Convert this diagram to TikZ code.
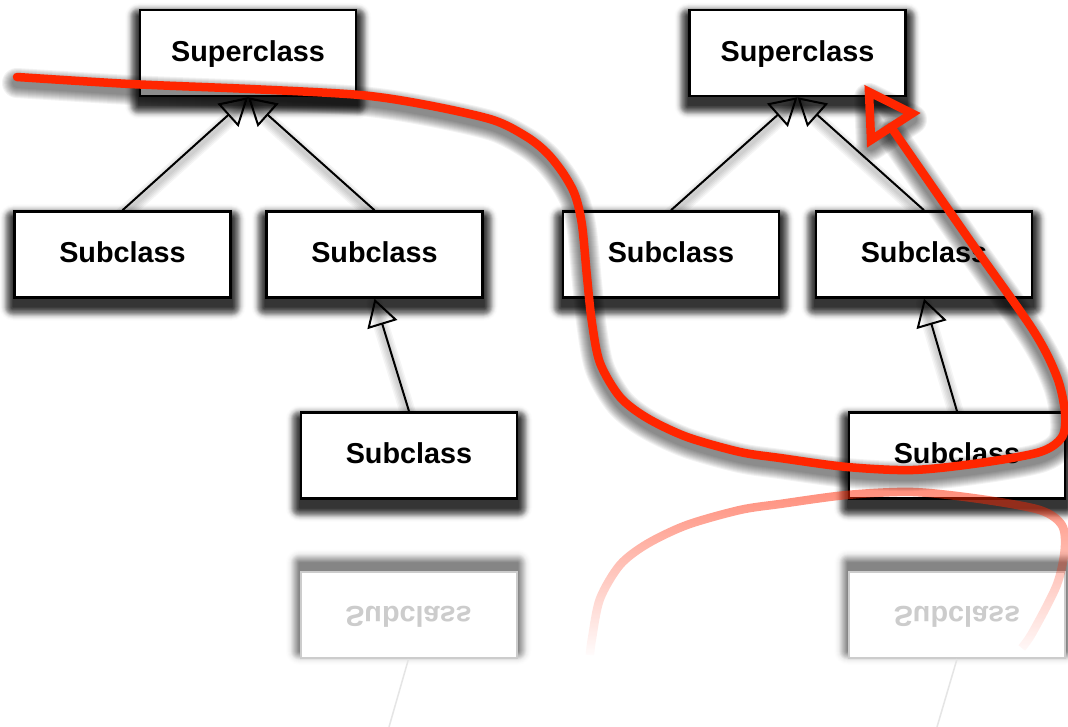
\documentclass[tikz,border=0pt]{standalone}
\usepackage{fontspec}
\setmainfont{Liberation Sans}
\usepackage{graphicx}
\usetikzlibrary{arrows.meta,calc,fadings}
\pgfdeclarelayer{back}
\pgfsetlayers{back,main}
\definecolor{redpen}{RGB}{255,38,0}
\tikzset{
  classbox/.style={draw=black, fill=white, line width=2.5pt,
    minimum width=216pt, minimum height=86pt, inner sep=0pt,
    text height=20.6pt, text depth=4pt,
    font=\bfseries\fontsize{28.8pt}{32pt}\selectfont},
  mirrorbox/.style={draw=black!20, fill=white, line width=2pt,
    minimum width=216pt, minimum height=86pt, inner sep=0pt,
    text=black!20, text height=4pt, text depth=20.6pt,
    font=\bfseries\fontsize{28.8pt}{32pt}\selectfont},
  genline/.style={draw=black, line width=2pt,
    -{Triangle[open, length=27pt, width=31pt]}},
  mirrorline/.style={draw=black!10, line width=1.5pt},
  redstroke/.style={draw=redpen, line width=8.5pt, line cap=round, line join=round},
}
\tikzfading[name=reflfade, top color=transparent!48, middle color=transparent!82,
  bottom color=transparent!100]
% blur profile of the drop shadows: growth / opacity of each layer
\def\blurlayers{0.5/0.075,1/0.075,1.5/0.075,2/0.075,2.5/0.075,3/0.075,
  3.5/0.065,4/0.065,4.5/0.065,5/0.065,5.5/0.065,6/0.065,
  6.5/0.057,7/0.057,7.5/0.057,8/0.057,8.5/0.057,9/0.057,
  9.5/0.022,10/0.022,10.5/0.022,11/0.022,11.5/0.022,12/0.022,
  12.5/0.008,13/0.008,13.5/0.008,14/0.008}
\begin{document}
\begin{tikzpicture}[x=1pt, y=-1pt]
\begin{pgfonlayer}{back}
  \fill[white] (0,0) rectangle (1068,727);
\end{pgfonlayer}
\useasboundingbox (0,0) rectangle (1068,727);

% class boxes
\node[classbox] (supL) at (248,53)    {Superclass};
\node[classbox] (supR) at (797.5,53)  {Superclass};
\node[classbox] (subA) at (122.5,254.5) {Subclass};
\node[classbox] (subB) at (374.5,254.5) {Subclass};
\node[classbox] (subC) at (409,455.5)   {Subclass};
\node[classbox] (subD) at (671,254.5)   {Subclass};
\node[classbox] (subE) at (924,254.5)   {Subclass};
\node[classbox] (subF) at (957,455.5)   {Subclass};

% mirrored copies of the lowest boxes
\node[mirrorbox] (refC) at (408.5,615) {\scalebox{1}[-1]{Subclass}};
\node[mirrorbox] (refF) at (957,615)   {\scalebox{1}[-1]{Subclass}};
\coordinate (refCend) at (389,727);
\coordinate (refFend) at (937,727);

% soft drop shadows
\begin{pgfonlayer}{back}
  \foreach \nm in {supL,supR,subA,subB,subC,subD,subE,subF}{
    \foreach \rr/\op in \blurlayers{
      \fill[black, opacity=\op, rounded corners=\rr pt]
        ($(\nm.north west)+(-\rr,{8-\rr})$) rectangle ($(\nm.south east)+(\rr,{8+\rr})$);
    }
  }
  \foreach \nm in {refC,refF}{
    \foreach \rr/\op in \blurlayers{
      \pgfmathsetmacro\opb{0.4*\op}
      \fill[black, opacity=\opb, rounded corners=\rr pt]
        ($(\nm.north west)+(-\rr,{-8-\rr})$) rectangle ($(\nm.south east)+(\rr,{-8+\rr})$);
    }
  }
  \foreach \a/\b in {subA/supL, subB/supL, subD/supR, subE/supR, subC/subB, subF/subE}{
    \foreach \w in {4,7,10,13,16}{
      \draw[black, opacity=0.04, line width=\w pt, line cap=round,
        transform canvas={yshift=-5pt}] (\a.north) -- (\b.south);
    }
  }
\end{pgfonlayer}

% generalisation connectors
\draw[genline] (subA.north) -- (supL.south);
\draw[genline] (subB.north) -- (supL.south);
\draw[genline] (subD.north) -- (supR.south);
\draw[genline] (subE.north) -- (supR.south);
\draw[genline] (subC.north) -- (subB.south);
\draw[genline] (subF.north) -- (subE.south);
\draw[mirrorline] (refC.south) -- (refCend);
\draw[mirrorline] (refF.south) -- (refFend);

% faded mirror image of the lower part of the red loop
\draw[redstroke, line cap=butt, path fading=reflfade]
  plot[smooth, tension=0.5] coordinates {(590,655) (592,639) (600,599) (620,565) (647,544) (687,525) (740,510) (780,504) (847,495) (913,492) (980,499) (1040,510) (1062,525) (1065,549) (1057,585) (1033,632) (1022,648)};

% red hand-drawn loop with its arrowhead
\coordinate (rtA) at (869,92);
\coordinate (rtB) at (912,113.5);
\coordinate (rtC) at (871,140);
\foreach \w in {10,12,14,16,18,20,22,24,26,28,30}{
  \draw[black, opacity=0.05, line width=\w pt, line cap=round, line join=round,
    transform canvas={yshift=-6pt}]
    plot[smooth, tension=0.5] coordinates {(17,77) (130,84) (250,89) (360,95) (427,105) (493,120) (527,137) (547,153) (563,173) (575,195) (582,225) (587,277) (592,323) (600,363) (620,397) (647,418) (687,437) (740,452) (780,458) (847,467) (913,470) (980,463) (1040,452) (1062,437) (1065,413) (1057,377) (1033,330) (966,235) (891,127)};
  \draw[black, opacity=0.05, line width=\w pt, line join=round,
    transform canvas={yshift=-6pt}] (rtA) -- (rtB) -- (rtC) -- cycle;
}
\draw[redstroke]
  plot[smooth, tension=0.5] coordinates {(17,77) (130,84) (250,89) (360,95) (427,105) (493,120) (527,137) (547,153) (563,173) (575,195) (582,225) (587,277) (592,323) (600,363) (620,397) (647,418) (687,437) (740,452) (780,458) (847,467) (913,470) (980,463) (1040,452) (1062,437) (1065,413) (1057,377) (1033,330) (966,235) (891,127)};
\draw[redstroke, line join=miter] (rtA) -- (rtB) -- (rtC) -- cycle;
\end{tikzpicture}
\end{document}
